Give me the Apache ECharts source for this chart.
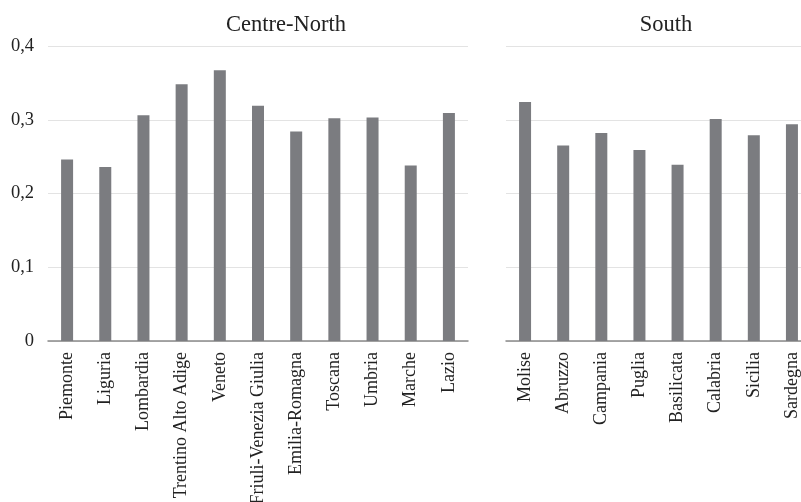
<!DOCTYPE html>
<html><head><meta charset="utf-8">
<script src="https://cdn.jsdelivr.net/npm/echarts@6/dist/echarts.min.js"></script>
<style>html,body{margin:0;padding:0;background:#fff}#c{width:801px;height:502px}</style>
</head><body><div id="c"></div>
<script>
const northCats = ['Piemonte','Liguria','Lombardia','Trentino Alto Adige','Veneto','Friuli-Venezia Giulia','Emilia-Romagna','Toscana','Umbria','Marche','Lazio'];
const northVals = [0.246,0.236,0.306,0.348,0.367,0.319,0.284,0.302,0.303,0.238,0.309];
const southCats = ['Molise','Abruzzo','Campania','Puglia','Basilicata','Calabria','Sicilia','Sardegna'];
const southVals = [0.324,0.265,0.282,0.259,0.239,0.301,0.279,0.294];
const yTicks = [0,0.1,0.2,0.3,0.4];

const font = '"Liberation Serif", "Times New Roman", serif';
const chart = echarts.init(document.getElementById('c'), null, {renderer:'canvas'});
const xAxisBase = {
  type:'category',
  axisLine:{show:true,lineStyle:{color:'#8a8a8a',width:1.5}},
  axisTick:{show:false},
  axisLabel:{rotate:90,interval:0,fontFamily:font,fontSize:18,color:'#222',margin:11}
};
const yAxisBase = {
  type:'value',min:0,max:0.4,interval:0.1,
  splitLine:{show:true,lineStyle:{color:'#e3e3e3',width:1}},
  axisLine:{show:false},axisTick:{show:false}
};
chart.setOption({
  animation:false,
  title:[
    {text:'Centre-North',left:281,top:9,textAlign:'center',textStyle:{fontFamily:font,fontSize:22.5,fontWeight:'normal',color:'#222'}},
    {text:'South',left:661,top:9,textAlign:'center',textStyle:{fontFamily:font,fontSize:22.5,fontWeight:'normal',color:'#222'}}
  ],
  grid:[
    {left:48,top:46,width:420,height:295,containLabel:false,outerBoundsMode:'none'},
    {left:506,top:46,width:305,height:295,containLabel:false,outerBoundsMode:'none'}
  ],
  xAxis:[
    Object.assign({},xAxisBase,{gridIndex:0,data:northCats}),
    Object.assign({},xAxisBase,{gridIndex:1,data:southCats})
  ],
  yAxis:[
    Object.assign({},yAxisBase,{gridIndex:0,axisLabel:{show:true,fontFamily:font,fontSize:18.5,color:'#222',margin:14,
      formatter:v=>{const t=yTicks.find(x=>Math.abs(x-v)<1e-9);return t===0?'0':String(t).replace('.',',');}}}),
    Object.assign({},yAxisBase,{gridIndex:1,axisLabel:{show:false}})
  ],
  series:[
    {type:'bar',xAxisIndex:0,yAxisIndex:0,data:northVals,barWidth:12,itemStyle:{color:'#7b7c80'}},
    {type:'bar',xAxisIndex:1,yAxisIndex:1,data:southVals,barWidth:12,itemStyle:{color:'#7b7c80'}}
  ]
});
</script></body></html>
